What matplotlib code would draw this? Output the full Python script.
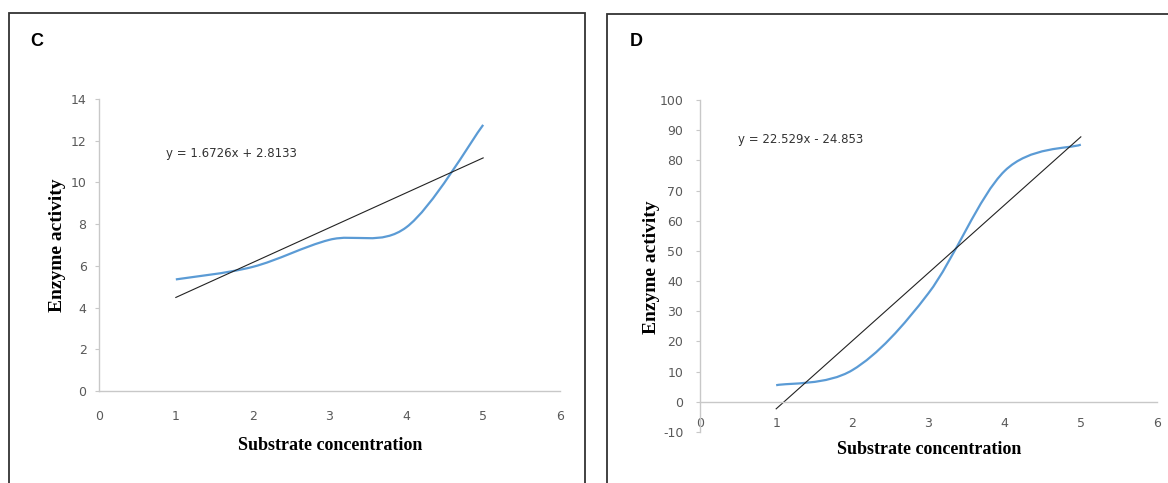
import matplotlib
matplotlib.use("Agg")
import matplotlib.pyplot as plt
import numpy as np
from matplotlib.path import Path
from matplotlib.patches import PathPatch, Rectangle

plt.rcParams["axes.unicode_minus"] = False

# data
substrate = [1, 2, 3, 4, 5]
activity_c = [5.35, 5.95, 7.25, 7.85, 12.76]
activity_d = [5.5, 10.5, 36.0, 76.5, 85.2]
fit_c = (1.6726, 2.8133)
fit_d = (22.529, -24.853)
label_c = "y = 1.6726x + 2.8133"
label_d = "y = 22.529x - 24.853"

BLUE = "#5b9bd5"
GRAY = "#595959"
AXIS = "#c8c8c8"
TICK_FONT = ["Liberation Sans Narrow", "DejaVu Sans"]
SERIF = "Liberation Serif"


def smooth_path(x, y):
    # Excel-style smoothed line: cubic Bezier through the points
    pts = np.column_stack([x, y]).astype(float)
    n = len(pts)
    verts = [pts[0]]
    codes = [Path.MOVETO]
    for i in range(n - 1):
        p_prev = pts[i - 1] if i > 0 else pts[i]
        p_next = pts[i + 2] if i + 2 < n else pts[i + 1]
        c1 = pts[i] + (pts[i + 1] - p_prev) / 6
        c2 = pts[i + 1] - (p_next - pts[i]) / 6
        verts += [c1, c2, pts[i + 1]]
        codes += [Path.CURVE4] * 3
    return Path(verts, codes)


def style_axes(ax, xpad, ypad):
    for side in ("top", "right"):
        ax.spines[side].set_visible(False)
    for side in ("left", "bottom"):
        ax.spines[side].set_color(AXIS)
        ax.spines[side].set_linewidth(1.0)
    ax.tick_params(axis="both", colors=AXIS, length=3, width=0.8,
                   labelcolor=GRAY, labelsize=9)
    ax.tick_params(axis="x", length=0, pad=xpad)
    ax.tick_params(axis="y", pad=ypad)
    for lab in ax.get_xticklabels() + ax.get_yticklabels():
        lab.set_family(TICK_FONT)
    ax.set_xlim(0, 6)
    ax.patch.set_alpha(0)


fig = plt.figure(figsize=(11.68, 4.83), dpi=100)
W, H = 1168, 483

# panel frames
fig.add_artist(Rectangle((9 / W, -0.1), 576 / W, 1.1 - 13 / H,
                         transform=fig.transFigure, fill=False,
                         edgecolor="#333333", linewidth=1.3))
fig.add_artist(Rectangle((607 / W, -0.1), 0.6, 1.1 - 14 / H,
                         transform=fig.transFigure, fill=False,
                         edgecolor="#333333", linewidth=1.3))

# panel C
ax1 = fig.add_axes([99 / W, (H - 391) / H, 461 / W, 292 / H])
ax1.set_xticks(range(0, 7))
ax1.set_ylim(0, 14)
ax1.set_yticks(range(0, 15, 2))
style_axes(ax1, xpad=14, ypad=6)
ax1.add_patch(PathPatch(smooth_path(substrate, activity_c), fill=False,
                        edgecolor=BLUE, linewidth=1.6))
xs = np.array([substrate[0], substrate[-1]])
ax1.plot(xs, fit_c[0] * xs + fit_c[1], color="#222222", linewidth=0.8)
fig.text(166 / W, (H - 153) / H, label_c, fontsize=8.5, color="#333333",
         family=TICK_FONT, va="center")
fig.text(330 / W, (H - 445) / H, "Substrate concentration", family=SERIF,
         fontweight="bold", fontsize=13, ha="center", va="center")
fig.text(57 / W, (H - 245) / H, "Enzyme activity", family=SERIF,
         fontweight="bold", fontsize=14, ha="center", va="center",
         rotation=90)
fig.text(37 / W, (H - 41) / H, "C", family="Liberation Sans",
         fontweight="bold", fontsize=13, ha="center", va="center")

# panel D
ax2 = fig.add_axes([700 / W, (H - 432) / H, 457 / W, 332 / H])
ax2.set_xticks(range(0, 7))
ax2.set_ylim(-10, 100)
ax2.set_yticks(range(-10, 101, 10))
ax2.spines["bottom"].set_position(("data", 0))
style_axes(ax2, xpad=11, ypad=9)
ax2.add_patch(PathPatch(smooth_path(substrate, activity_d), fill=False,
                        edgecolor=BLUE, linewidth=1.6))
ax2.plot(xs, fit_d[0] * xs + fit_d[1], color="#222222", linewidth=0.8)
fig.text(738 / W, (H - 140) / H, label_d, fontsize=8.5, color="#333333",
         family=TICK_FONT, va="center")
fig.text(929 / W, (H - 450) / H, "Substrate concentration", family=SERIF,
         fontweight="bold", fontsize=13, ha="center", va="center")
fig.text(651 / W, (H - 267) / H, "Enzyme activity", family=SERIF,
         fontweight="bold", fontsize=14, ha="center", va="center",
         rotation=90)
fig.text(636 / W, (H - 42) / H, "D", family="Liberation Sans",
         fontweight="bold", fontsize=13, ha="center", va="center")

fig.savefig("out.png", dpi=100)
